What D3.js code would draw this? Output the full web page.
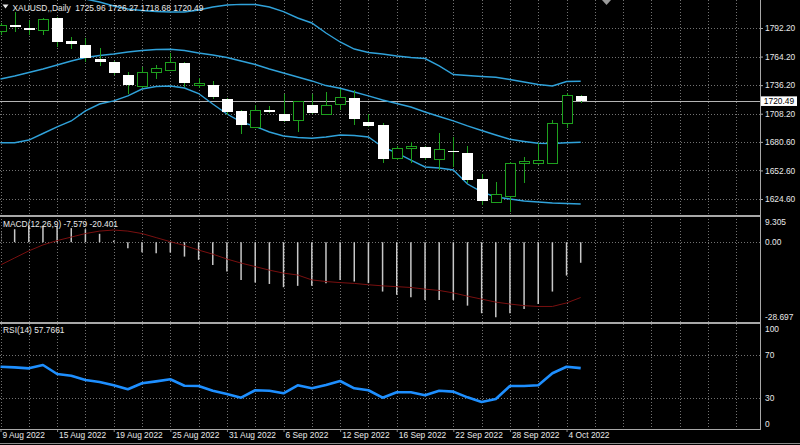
<!DOCTYPE html>
<html>
<head>
<meta charset="utf-8">
<title>XAUUSD Daily</title>
<script src="https://cdn.jsdelivr.net/npm/d3@7"></script>
<style>
body{margin:0;background:#000;overflow:hidden;}
svg{display:block;}
text{font-family:"Liberation Sans",Arial,sans-serif;font-size:8.4px;fill:#e8e8e8;}
</style>
</head>
<body>
<script>
// trading days shown on the chart
var dates = ["9 Aug 2022","10 Aug 2022","11 Aug 2022","12 Aug 2022","15 Aug 2022","16 Aug 2022","17 Aug 2022","18 Aug 2022",
  "19 Aug 2022","22 Aug 2022","23 Aug 2022","24 Aug 2022","25 Aug 2022","26 Aug 2022","29 Aug 2022","30 Aug 2022",
  "31 Aug 2022","1 Sep 2022","2 Sep 2022","5 Sep 2022","6 Sep 2022","7 Sep 2022","8 Sep 2022","9 Sep 2022",
  "12 Sep 2022","13 Sep 2022","14 Sep 2022","15 Sep 2022","16 Sep 2022","19 Sep 2022","20 Sep 2022","21 Sep 2022",
  "22 Sep 2022","23 Sep 2022","26 Sep 2022","27 Sep 2022","28 Sep 2022","29 Sep 2022","30 Sep 2022","3 Oct 2022",
  "4 Oct 2022","5 Oct 2022"];

var open  = [1788.3,1794.8,1792.2,1789.3,1801.7,1779.5,1775.5,1762.1,1758.6,1745.8,1734.7,1748.8,1750.7,1758.2,
  1736.0,1736.3,1722.6,1710.6,1694.9,1712.1,1708.2,1701.3,1717.0,1707.6,1717.0,1723.3,1700.4,1697.1,
  1664.5,1674.3,1675.3,1663.8,1671.7,1670.0,1643.9,1621.4,1626.9,1659.2,1659.2,1659.6,1698.8,1725.96];
var high  = [1797.5,1807.9,1800.0,1802.0,1803.0,1783.4,1782.4,1772.6,1759.9,1749.1,1754.0,1755.9,1767.7,1758.9,
  1743.2,1740.6,1723.6,1711.8,1716.7,1715.8,1727.5,1720.7,1727.2,1729.8,1732.4,1731.4,1707.9,1699.1,
  1676.6,1680.8,1677.0,1689.3,1685.7,1676.6,1649.1,1641.6,1661.2,1666.1,1679.5,1702.0,1728.5,1726.27];
var low   = [1785.0,1788.3,1785.3,1785.3,1773.6,1771.6,1758.9,1754.9,1746.1,1727.5,1733.4,1742.2,1750.1,1734.4,
  1733.4,1722.6,1706.9,1688.3,1694.2,1708.9,1700.4,1690.6,1707.9,1706.9,1711.8,1697.1,1695.5,1659.9,
  1662.8,1659.6,1663.0,1653.0,1656.3,1640.0,1618.7,1620.4,1612.2,1640.0,1657.9,1658.9,1694.2,1718.68];
var close = [1795.1,1792.9,1789.9,1801.0,1778.8,1776.2,1762.5,1758.6,1747.8,1736.0,1748.4,1752.7,1758.6,1738.6,
  1737.8,1724.3,1710.2,1696.8,1711.5,1709.9,1701.3,1719.7,1708.9,1716.1,1724.3,1702.7,1696.4,1664.1,
  1674.3,1675.9,1664.5,1673.3,1671.2,1643.2,1622.9,1629.2,1659.6,1660.9,1662.5,1698.8,1726.2,1720.49];

// Bollinger bands
var bbUpper  = [1831.4,1829.4,1827.5,1825.5,1824.5,1822.6,1820.6,1817.7,1813.8,1810.8,1809.4,1808.4,1807.9,1807.9,
  1809.8,1812.8,1814.7,1815.4,1815.2,1812.8,1808.2,1802.0,1797.1,1787.3,1778.5,1771.6,1768.2,1766.7,
  1764.8,1763.3,1762.3,1755.0,1746.6,1745.6,1744.7,1743.9,1741.7,1739.3,1736.8,1735.4,1739.8,1740.0];
var bbMiddle = [1742.2,1745.2,1748.6,1752.0,1755.9,1759.9,1763.3,1765.3,1766.7,1768.7,1770.2,1771.1,1771.3,1770.2,
  1767.7,1765.7,1763.3,1759.9,1756.4,1752.0,1748.1,1744.2,1740.3,1735.8,1733.1,1729.5,1725.6,1721.6,
  1718.2,1714.8,1709.9,1705.5,1701.1,1696.2,1691.7,1687.3,1683.1,1681.0,1679.2,1679.0,1679.7,1680.2];
var bbLower  = [1679.8,1679.8,1682.4,1688.8,1695.2,1701.1,1710.9,1717.7,1720.7,1725.6,1732.4,1734.9,1735.4,1733.4,
  1728.0,1717.7,1707.9,1700.1,1695.7,1690.3,1686.4,1684.9,1684.1,1685.4,1687.3,1686.8,1685.4,1675.6,
  1669.7,1662.8,1656.0,1655.0,1653.0,1639.3,1631.5,1626.6,1624.6,1622.6,1621.7,1620.7,1620.2,1619.7];

// MACD(12,26,9)
var macdMain   = [4.0,4.8,6.1,6.1,6.0,5.2,4.8,3.1,0.6,-2.2,-3.7,-4.1,-3.8,-5.3,-6.5,-8.4,-10.8,-13.9,-14.9,-15.4,
  -16.6,-16.1,-16.1,-15.1,-13.9,-14.5,-15.1,-18.2,-19.4,-20.3,-21.3,-21.3,-21.3,-23.4,-26.2,-27.7,-26.2,
  -24.6,-22.8,-18.2,-12.3,-7.579];
var macdSignal = [-8.4,-5.8,-3.2,-1.0,0.6,1.9,3.2,4.1,4.5,4.1,3.2,1.7,0.2,-1.2,-2.9,-4.4,-6.2,-7.7,-9.0,-10.3,
  -11.4,-12.1,-13.9,-14.5,-14.9,-15.2,-15.7,-16.1,-16.4,-16.7,-17.3,-17.8,-18.7,-19.9,-21.0,-22.1,-22.8,
  -23.4,-23.7,-23.7,-22.4,-20.401];

// RSI(14)
var rsi = [59.1,58.5,57.6,60.7,52.3,50.7,46.7,44.9,41.8,38.1,43.7,45.5,47.4,41.4,41.2,36.8,33.7,30.3,37.2,36.8,
  34.4,41.8,39.0,42.1,45.8,39.0,37.2,30.3,35.3,35.3,32.5,36.8,35.9,30.6,26.3,29.1,41.2,41.2,41.8,53.0,59.1,57.7661];

var priceTicks = [1792.20,1764.20,1736.20,1708.20,1680.60,1652.60,1624.60];
var macdTicks  = [9.305,0,-28.697];
var rsiTicks   = [100,70,30,0];
var rsiLevels  = [70,30];
var lastQuote  = [1725.96,1726.27,1718.68,1720.49];

var width = 800, height = 445, plotW = 760;
var green = "#1ea01e", band = "#30a2da", gridCol = "#727272", sepCol = "#a8a8a8";

var svg = d3.select("body").append("svg").attr("width", width).attr("height", height);
svg.append("rect").attr("width", width).attr("height", height).attr("fill", "#000");

var x = d3.scaleLinear().domain([0, dates.length - 1]).range([0.5, 580.7]);
var yP = d3.scaleLinear().domain([1624.6, 1792.2]).range([199, 28]);
var yM = d3.scaleLinear().domain([-28.697, 9.305]).range([320, 217]);
var yR = d3.scaleLinear().domain([30, 70]).range([398, 355]);
function px(i){ return Math.round(x(i)) + 0.5; }

var defs = svg.append("defs");
defs.append("clipPath").attr("id","cMain").append("rect").attr("width",plotW).attr("height",215);
defs.append("clipPath").attr("id","cMacd").append("rect").attr("x",1).attr("y",217).attr("width",plotW-1).attr("height",105);
defs.append("clipPath").attr("id","cRsi").append("rect").attr("y",324).attr("width",plotW).attr("height",105);

// grid
var grid = svg.append("g").attr("stroke", gridCol).attr("stroke-dasharray","1,2").attr("shape-rendering","crispEdges");
var vIdx = d3.range(0, 60, 2).filter(function(i){ return x(i) < plotW - 5; });
grid.selectAll("line.v").data(vIdx).enter().append("line")
  .attr("x1", px).attr("x2", px).attr("y1", 0).attr("y2", 429);
grid.selectAll("line.p").data(priceTicks).enter().append("line")
  .attr("x1",0).attr("x2",plotW).attr("y1",function(d){return Math.round(yP(d))+0.5;}).attr("y2",function(d){return Math.round(yP(d))+0.5;});
grid.append("line").attr("x1",0).attr("x2",plotW).attr("y1",Math.round(yM(0))+0.5).attr("y2",Math.round(yM(0))+0.5);
grid.selectAll("line.r").data(rsiLevels).enter().append("line")
  .attr("x1",0).attr("x2",plotW).attr("y1",function(d){return Math.round(yR(d))+0.5;}).attr("y2",function(d){return Math.round(yR(d))+0.5;});

// main panel
var gMain = svg.append("g").attr("clip-path","url(#cMain)");
gMain.append("line").attr("x1",0).attr("x2",plotW)
  .attr("y1",Math.round(yP(lastQuote[3]))+0.5).attr("y2",Math.round(yP(lastQuote[3]))+0.5)
  .attr("stroke","#b4b4b4").attr("shape-rendering","crispEdges");

[bbUpper, bbMiddle, bbLower].forEach(function(s){
  gMain.append("path").datum(s)
    .attr("d", d3.line().x(function(d,i){return x(i);}).y(function(d){return yP(d);}))
    .attr("fill","none").attr("stroke",band).attr("stroke-width",1.4);
});

var idx = d3.range(dates.length);
var cg = gMain.append("g").attr("shape-rendering","crispEdges");
cg.selectAll("line").data(idx).enter().append("line")
  .attr("x1",px).attr("x2",px)
  .attr("y1",function(i){return yP(high[i]);}).attr("y2",function(i){return yP(low[i]);})
  .attr("stroke",green);
cg.selectAll("rect").data(idx).enter().append("rect")
  .attr("x",function(i){ return close[i] < open[i] ? Math.round(x(i)) - 5 : Math.round(x(i)) - 4.5; })
  .attr("width",function(i){ return close[i] < open[i] ? 11 : 10; })
  .attr("y",function(i){ return yP(Math.max(open[i], close[i])); })
  .attr("height",function(i){ return Math.max(1.5, Math.abs(yP(open[i]) - yP(close[i]))); })
  .attr("fill",function(i){ return close[i] < open[i] ? "#ffffff" : "#000"; })
  .attr("stroke",function(i){ return close[i] < open[i] ? "none" : green; });

// MACD panel
var gMacd = svg.append("g").attr("clip-path","url(#cMacd)");
gMacd.selectAll("line").data(idx).enter().append("line")
  .attr("x1",function(i){return x(i);}).attr("x2",function(i){return x(i);})
  .attr("y1",yM(0)).attr("y2",function(i){return yM(macdMain[i]);})
  .attr("stroke","#c8c8c8").attr("stroke-width",1.5);
gMacd.append("path").datum(macdSignal)
  .attr("d", d3.line().x(function(d,i){return x(i);}).y(function(d){return yM(d);}))
  .attr("fill","none").attr("stroke","#7a1010").attr("stroke-width",1);

// RSI panel
var gRsi = svg.append("g").attr("clip-path","url(#cRsi)");
gRsi.append("path").datum(rsi)
  .attr("d", d3.line().x(function(d,i){return x(i);}).y(function(d){return yR(d);}))
  .attr("fill","none").attr("stroke","#1e8fff").attr("stroke-width",2.6).attr("stroke-linejoin","round");

// frame: panel separators, right scale border, time axis
var frame = svg.append("g").attr("stroke",sepCol).attr("shape-rendering","crispEdges");
frame.append("line").attr("x1",0).attr("x2",plotW).attr("y1",216).attr("y2",216).attr("stroke-width",2);
frame.append("line").attr("x1",0).attr("x2",plotW).attr("y1",323).attr("y2",323).attr("stroke-width",2);
frame.append("line").attr("x1",0).attr("x2",plotW).attr("y1",429.5).attr("y2",429.5);
frame.append("line").attr("x1",plotW+0.5).attr("x2",plotW+0.5).attr("y1",0).attr("y2",430);
frame.append("line").attr("x1",0).attr("x2",width).attr("y1",443.5).attr("y2",443.5).attr("stroke","#8a8a8a");

// price scale
var pAxis = svg.append("g").attr("transform","translate("+plotW+",0)")
  .call(d3.axisRight(yP).tickValues(priceTicks).tickFormat(d3.format(".2f")).tickSize(3).tickPadding(2));
pAxis.select(".domain").remove();
pAxis.selectAll("line").attr("stroke",sepCol);
pAxis.selectAll("text").attr("font-size",null).attr("font-family",null).attr("fill","#e8e8e8");

// current price box
svg.append("rect").attr("x",761).attr("y",yP(lastQuote[3])-4.8).attr("width",36).attr("height",9.6).attr("fill","#fff");
svg.append("text").attr("x",779).attr("y",yP(lastQuote[3])).attr("dy","0.34em")
  .attr("text-anchor","middle").style("fill","#000").text(d3.format(".2f")(lastQuote[3]));

// MACD scale
var macdFmt = function(d){ return d === 0 ? "0.00" : String(d); };
svg.selectAll("text.ml").data(macdTicks).enter().append("text")
  .attr("x",765).attr("y",function(d){ return yM(d); })
  .attr("dy",function(d,i){ return i === 0 ? "0.95em" : (i === 1 ? "0.34em" : "0em"); })
  .text(macdFmt);

// RSI scale
svg.selectAll("text.rl").data(rsiTicks).enter().append("text")
  .attr("x",765).attr("y",function(d){ return yR(d); })
  .attr("dy",function(d){ return d === 100 ? "1.05em" : (d === 0 ? "-0.4em" : "0.34em"); })
  .text(function(d){ return d; });

// time scale
var tIdx = d3.range(0, dates.length, 4);
var tAxis = svg.append("g").attr("transform","translate(0,430)")
  .call(d3.axisBottom(x).tickValues(tIdx).tickFormat(function(i){ return dates[i]; }).tickSize(2));
tAxis.select(".domain").remove();
tAxis.selectAll("line").attr("stroke","#8a8a8a");
tAxis.selectAll("text").attr("font-size",null).attr("font-family",null).attr("fill","#e8e8e8")
  .attr("text-anchor","start").attr("x",1.5).attr("y",2).attr("dy","0.75em");

// panel captions
svg.append("path").attr("d","M2.5,4.5 L8.5,4.5 L5.5,8.5 Z").attr("fill","#e8e8e8");
svg.append("text").attr("x",12.5).attr("y",11).style("white-space","pre")
  .text("XAUUSD,,Daily  " + lastQuote.map(d3.format(".2f")).join(" "));
svg.append("text").attr("x",3).attr("y",226.5)
  .text("MACD(12,26,9) " + macdMain[macdMain.length-1] + " " + macdSignal[macdSignal.length-1]);
svg.append("text").attr("x",3).attr("y",333)
  .text("RSI(14) " + rsi[rsi.length-1]);

// chart shift marker
svg.append("path").attr("d","M602,0 L611,0 L606.5,5 Z").attr("fill","#9a9a9a");
</script>
</body>
</html>
